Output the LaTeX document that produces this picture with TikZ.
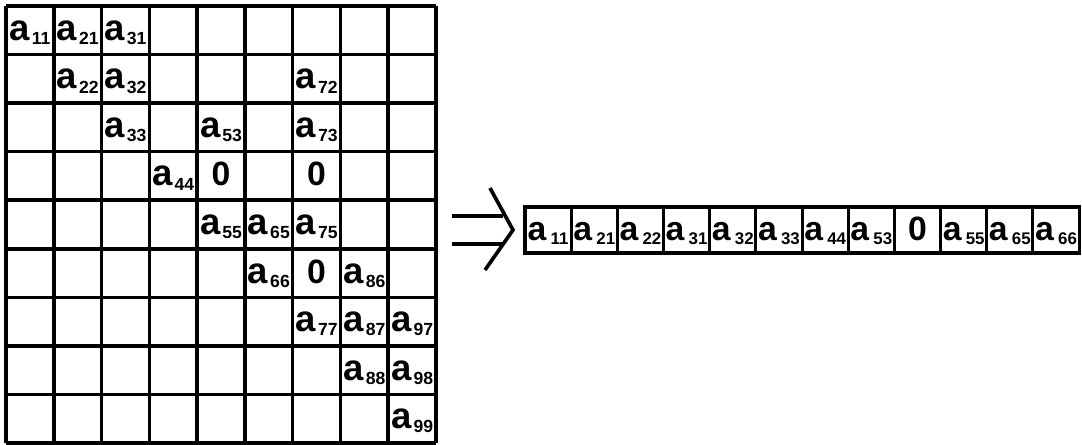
\documentclass[tikz,border=0pt]{standalone}
\usepackage{fontspec}
\newfontfamily\entfont{Liberation Sans}
\usetikzlibrary{positioning}
\newcommand\ea[1]{a\kern\subgap{\fontsize{\subsz}{\subsz}\selectfont\raisebox{-3pt}{#1}}}

\begin{document}
\begin{tikzpicture}[x=0.025cm, y=-0.025cm, line width=2.5pt,
  ent/.style={font={\entfont\bfseries\fontsize{26}{26}\selectfont\def\subsz{12.5}\def\subgap{1.5pt}},
    inner sep=0pt, text height=0.55cm, text depth=0.05cm},
  zero/.style={ent, font={\entfont\bfseries\fontsize{24}{24}\selectfont}},
  cell/.style={draw, line width=2.2pt, outer sep=0pt, minimum width=1.154cm, minimum height=1.15cm,
    inner sep=0pt, text height=0.6cm, text depth=0.1cm,
    font={\entfont\bfseries\fontsize{24}{24}\selectfont\def\subsz{12}\def\subgap{3pt}}}]
  \useasboundingbox (0,0) rectangle (1082,445);
  % band matrix
  \foreach \i in {0,...,9} {
    \draw (6+47.78*\i,6) -- (6+47.78*\i,443);
    \draw (6,6+48.56*\i) -- (436,6+48.56*\i);
  }
  \foreach \c/\r in {1/1,2/1,3/1,2/2,3/2,7/2,3/3,5/3,7/3,4/4,5/5,6/5,7/5,6/6,8/6,7/7,8/7,9/7,8/8,9/8,9/9}
    \node[ent] (m\c\r) at (47.78*\c-17.89, 48.56*\r-18.28) {\ea{\c\r}};
  \foreach \c/\r in {5/4,7/4,7/6}
    \node[zero] (m\c\r) at (47.78*\c-17.89, 48.56*\r-18.28) {0};
  % the arrow
  \draw[line width=2.6pt] (452,216) -- (503,216) (452,244) -- (503,244);
  \draw[line width=2.6pt] (490,188) -- (513,230) -- (485,270);
  % stored vector
  \node[cell] (v1) at (548.1,230) {\ea{11}};
  \foreach \t [count=\k from 2, remember=\k as \p (initially 1)] in
      {\ea{21},\ea{22},\ea{31},\ea{32},\ea{33},\ea{44},\ea{53},{\fontsize{24}{24}\selectfont 0},\ea{55},\ea{65},\ea{66}}
    \node[cell, right=0pt of v\p] (v\k) {\t};
\end{tikzpicture}
\end{document}
